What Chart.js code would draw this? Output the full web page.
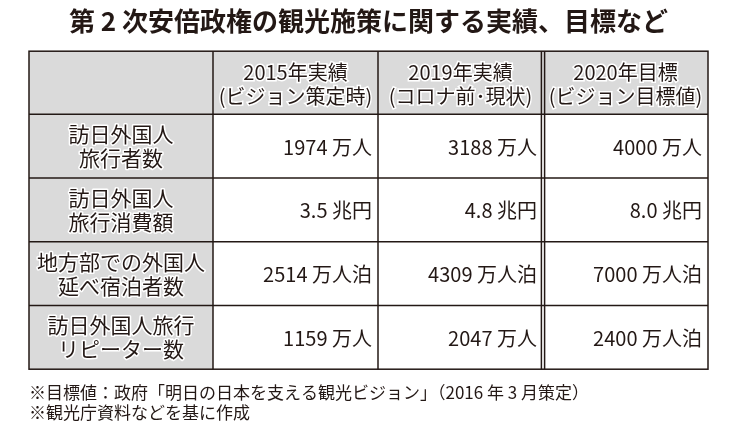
<!DOCTYPE html>
<html lang="ja">
<head>
<meta charset="utf-8">
<title>第 2 次安倍政権の観光施策に関する実績、目標など</title>
<script src="https://cdn.jsdelivr.net/npm/chart.js@4/dist/chart.umd.min.js"></script>
<style>
  html, body { margin: 0; padding: 0; background: #fff; }
  #wrap { position: relative; width: 731px; height: 442px; }
</style>
</head>
<body>
<div id="wrap"><canvas id="table"></canvas></div>
<script>
// Column headers (x axis) and row headers (y axis)
const columnTitles = ["2015年実績", "2019年実績", "2020年目標"];
const columnNotes = ["(ビジョン策定時)", "(コロナ前･現状)", "(ビジョン目標値)"];
const rowTitles = ["訪日外国人", "訪日外国人", "地方部での外国人", "訪日外国人旅行"];
const rowNotes = ["旅行者数", "旅行消費額", "延べ宿泊者数", "リピーター数"];

// Cell values, one array per column
const values2015 = [1974, 3.5, 2514, 1159];
const values2019 = [3188, 4.8, 4309, 2047];
const target2020 = [4000, 8.0, 7000, 2400];
const rowDecimals = [0, 1, 0, 0];
const units2015 = ["万人", "兆円", "万人泊", "万人"];
const units2019 = ["万人", "兆円", "万人泊", "万人"];
const units2020 = ["万人", "兆円", "万人泊", "万人泊"];

const titleText = "第 2 次安倍政権の観光施策に関する実績、目標など";
const notes = [
  "※目標値：政府「明日の日本を支える観光ビジョン」（2016 年 3 月策定）",
  "※観光庁資料などを基に作成",
];

const FONT = "'Noto Sans CJK JP', 'Noto Sans', sans-serif";
const ink = "#231815";
const headerGray = "#dadada";

const rowKeys = rowTitles.map((t, i) => t + rowNotes[i]);
const columns = [
  { values: values2015, units: units2015 },
  { values: values2019, units: units2019 },
  { values: target2020, units: units2020 },
];

// Cell backgrounds, borders and cell texts, all placed from the scales
const tablePlugin = {
  id: "tableCells",
  beforeDraw(chart) {
    const { ctx, chartArea, scales: { x, y } } = chart;
    ctx.save();
    ctx.fillStyle = headerGray;
    ctx.fillRect(y.left, x.top, chartArea.right - y.left, x.bottom - x.top);
    ctx.fillRect(y.left, chartArea.top, y.right - y.left, chartArea.bottom - chartArea.top);
    ctx.restore();
  },
  afterDatasetsDraw(chart) {
    const { ctx, scales: { x, y } } = chart;
    const colStep = x.getPixelForValue(1) - x.getPixelForValue(0);
    ctx.save();
    ctx.fillStyle = ink;
    ctx.textBaseline = "middle";

    // row headers, centred in the y axis column
    ctx.font = "21px " + FONT;
    ctx.textAlign = "center";
    ctx.strokeStyle = "#ffffff";
    ctx.lineWidth = 3;
    ctx.lineJoin = "round";
    const cx = (y.left + y.right) / 2;
    rowKeys.forEach((key, i) => {
      const cy = y.getPixelForValue(i);
      [[rowTitles[i], cy - 12], [rowNotes[i], cy + 12]].forEach(([t, ty]) => {
        ctx.strokeText(t, cx, ty);
        ctx.fillText(t, cx, ty);
      });
    });

    // cell values, right aligned in each column
    ctx.font = "20px " + FONT;
    ctx.textAlign = "right";
    chart.data.datasets.forEach((ds, d) => {
      const meta = chart.getDatasetMeta(d);
      meta.data.forEach((el, i) => {
        ctx.fillText(ds.data[i].text, el.x + colStep / 2 - 6, el.y + 1);
      });
    });
    ctx.restore();
  },
  afterDraw(chart) {
    const { ctx, chartArea, scales: { x, y } } = chart;
    const colStep = x.getPixelForValue(1) - x.getPixelForValue(0);
    const rowStep = y.getPixelForValue(1) - y.getPixelForValue(0);
    const left = y.left, top = x.top, right = chartArea.right, bottom = chartArea.bottom;
    ctx.save();
    ctx.strokeStyle = ink;
    ctx.lineWidth = 1.5;
    const line = (x1, y1, x2, y2) => {
      ctx.beginPath();
      ctx.moveTo(x1, y1);
      ctx.lineTo(x2, y2);
      ctx.stroke();
    };
    ctx.strokeRect(left, top, right - left, bottom - top);
    line(left, chartArea.top, right, chartArea.top);
    for (let i = 1; i < rowKeys.length; i++) {
      const yb = y.getPixelForValue(i) - rowStep / 2;
      line(left, yb, right, yb);
    }
    line(chartArea.left, top, chartArea.left, bottom);
    for (let c = 1; c < columnTitles.length; c++) {
      const xb = x.getPixelForValue(c) - colStep / 2;
      if (c === columnTitles.length - 1) {
        // double rule before the target column
        line(xb - 1.6, top, xb - 1.6, bottom);
        line(xb + 1.6, top, xb + 1.6, bottom);
      } else {
        line(xb, top, xb, bottom);
      }
    }
    ctx.restore();
  },
};

document.addEventListener("DOMContentLoaded", () => {
  const datasets = columns.map((col, c) => ({
    label: columnTitles[c],
    data: col.values.map((v, r) => ({
      x: columnTitles[c],
      y: rowKeys[r],
      text: v.toFixed(rowDecimals[r]) + " " + col.units[r],
    })),
    showLine: false,
    pointRadius: 0,
    pointHoverRadius: 0,
  }));

  new Chart(document.getElementById("table"), {
    type: "line",
    data: { datasets },
    plugins: [tablePlugin],
    options: {
      responsive: true,
      maintainAspectRatio: false,
      animation: false,
      events: [],
      layout: { padding: { left: 29, right: 23, top: 0, bottom: 0 } },
      plugins: {
        legend: { display: false },
        tooltip: { enabled: false },
        title: {
          display: true,
          text: titleText,
          color: ink,
          font: { family: FONT, size: 26, weight: "bold", lineHeight: 1.2 },
          padding: { top: 6, bottom: 14 },
        },
        subtitle: {
          display: true,
          position: "bottom",
          align: "start",
          text: notes,
          color: ink,
          font: { family: FONT, size: 17, weight: "normal", lineHeight: 1.2 },
          padding: { top: 13, bottom: 19 },
        },
      },
      scales: {
        x: {
          type: "category",
          position: "top",
          labels: columnTitles,
          offset: true,
          border: { display: false },
          grid: { display: false, drawTicks: false },
          afterFit: (scale) => { scale.height = 63; },
          ticks: {
            autoSkip: false,
            maxRotation: 0,
            padding: 6,
            color: ink,
            textStrokeColor: "#ffffff",
            textStrokeWidth: 3,
            font: { family: FONT, size: 20, lineHeight: 1.2 },
            callback: (value, i) => [columnTitles[i], columnNotes[i]],
          },
        },
        y: {
          type: "category",
          position: "left",
          labels: rowKeys,
          offset: true,
          border: { display: false },
          grid: { display: false, drawTicks: false },
          afterFit: (scale) => { scale.width = 184; },
          ticks: { display: false },
        },
      },
    },
  });
});
</script>
</body>
</html>
